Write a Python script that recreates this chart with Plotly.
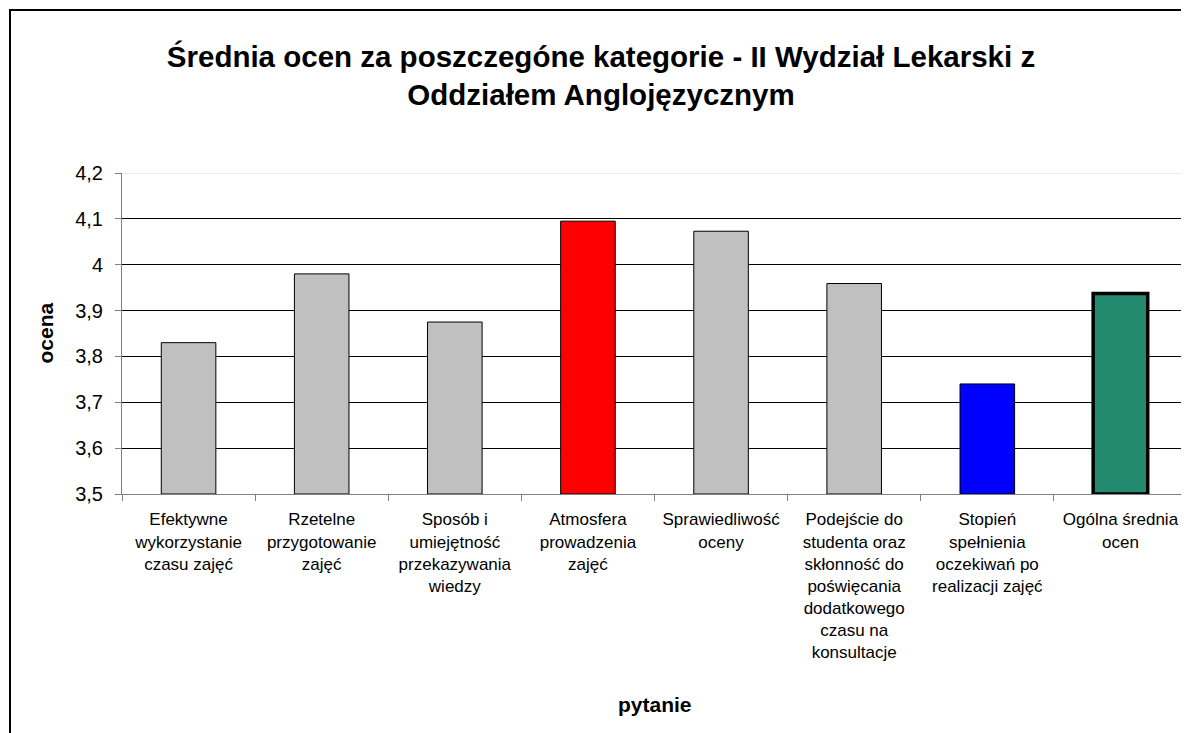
import plotly.graph_objects as go

# categories (x axis labels, wrapped as in the original)
categories = [
    "Efektywne<br>wykorzystanie<br>czasu zajęć",
    "Rzetelne<br>przygotowanie<br>zajęć",
    "Sposób i<br>umiejętność<br>przekazywania<br>wiedzy",
    "Atmosfera<br>prowadzenia<br>zajęć",
    "Sprawiedliwość<br>oceny",
    "Podejście do<br>studenta oraz<br>skłonność do<br>poświęcania<br>dodatkowego<br>czasu na<br>konsultacje",
    "Stopień<br>spełnienia<br>oczekiwań po<br>realizacji zajęć",
    "Ogólna średnia<br>ocen",
]
values = [3.83, 3.98, 3.875, 4.095, 4.073, 3.959, 3.74, 3.937]
bar_colors = ["#C0C0C0", "#C0C0C0", "#C0C0C0", "#FF0000", "#C0C0C0", "#C0C0C0", "#0000FF", "#23896F"]
border_widths = [1, 1, 1, 1, 1, 1, 1, 3.5]

y_base = 3.5
y_ticks = [3.5, 3.6, 3.7, 3.8, 3.9, 4.0, 4.1, 4.2]
y_ticktext = ["3,5", "3,6", "3,7", "3,8", "3,9", "4", "4,1", "4,2"]

font = "Liberation Sans, Arial, sans-serif"

# page body has an 8px margin, so the figure is laid out 8px smaller
W, H = 1181, 725
L, R, T, B = 114, 2, 165, 239
pw, ph = W - L - R, H - T - B


def px(x):
    return (x - 8 - L) / pw


def py(y):
    return (H - B - (y - 8)) / ph


fig = go.Figure()
fig.add_trace(go.Bar(
    x=categories,
    y=[v - y_base for v in values],
    base=y_base,
    marker=dict(color=bar_colors, line=dict(color="#000000", width=border_widths)),
    width=0.41,
))

fig.update_layout(
    width=W, height=H,
    margin=dict(l=L, r=R, t=T, b=B),
    paper_bgcolor="white", plot_bgcolor="white",
    showlegend=False,
    font=dict(family=font, color="#000000"),
    title=dict(
        text="Średnia ocen za poszczegóne kategorie - II Wydział Lekarski z<br>Oddziałem Anglojęzycznym",
        font=dict(size=29.5, family=font, color="#000000", weight="bold"),
        x=px(601), xanchor="center", xref="paper",
        y=1 - (67 - 8) / H, yanchor="middle",
    ),
    xaxis=dict(
        type="category",
        showline=True, linecolor="#808080", linewidth=1,
        ticks="outside", tickson="boundaries", ticklen=6, tickcolor="#808080",
        tickfont=dict(size=17, family=font),
        ticklabelstandoff=10,
        showgrid=False,
    ),
    yaxis=dict(
        range=[3.5, 4.2],
        tickvals=y_ticks, ticktext=y_ticktext,
        tickfont=dict(size=20, family=font),
        ticklabelstandoff=8,
        showline=True, linecolor="#808080", linewidth=1,
        ticks="outside", ticklen=6, tickcolor="#808080",
        showgrid=True, gridcolor="#000000", gridwidth=1,
        zeroline=False,
    ),
    annotations=[
        dict(text="<b>ocena</b>", textangle=-90, xref="paper", yref="paper",
             x=px(45), y=0.5, xanchor="center", yanchor="middle", showarrow=False,
             font=dict(size=21, family=font)),
        dict(text="<b>pytanie</b>", xref="paper", yref="paper",
             x=0.5, y=py(704), xanchor="center", yanchor="middle", showarrow=False,
             font=dict(size=21, family=font)),
    ],
    shapes=[
        # light top gridline
        dict(type="line", xref="paper", yref="y", x0=0, x1=1, y0=4.2, y1=4.2,
             line=dict(color="#D9D9D9", width=1), layer="above"),
        # chart frame
        dict(type="rect", xref="paper", yref="paper",
             x0=px(10), x1=px(1210), y0=py(760), y1=py(10),
             line=dict(color="#000000", width=2)),
    ],
)

fig.write_html("out.html")
